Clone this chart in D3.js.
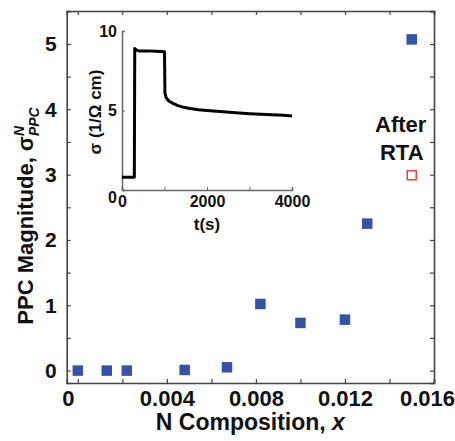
<!DOCTYPE html>
<html>
<head>
<meta charset="utf-8">
<script src="https://cdn.jsdelivr.net/npm/d3@7"></script>
<style>
  body { margin: 0; background: #fff; }
  svg { font-family: "Liberation Sans", Arial, sans-serif; font-weight: bold; }
</style>
</head>
<body>
<div id="d3chart"></div>
<script>
// DATA ===========================================================================================
const nComp = [0.0000, 0.0013, 0.0022, 0.0048, 0.0067, 0.0082, 0.0100, 0.0120, 0.0130, 0.0150]
const ppc   = [0.00,   0.00,   0.00,   0.01,   0.05,   1.02,   0.73,   0.78,   2.25,   5.07]
const rtaComp = [0.0150]
const rtaPpc  = [2.99]

const xTicks = [0, 0.004, 0.008, 0.012, 0.016]
const yTicks = [0, 1, 2, 3, 4, 5]

// inset: conductivity transient
const tSec  = [0, 290, 300, 340, 400, 600, 800, 1000, 1010, 1040, 1100, 1200, 1300, 1450, 1600, 1800, 2000, 2300, 2600, 3000, 3400, 3800, 4000]
const sigma = [0.8, 0.8, 8.9, 8.8, 8.75, 8.75, 8.72, 8.7, 6.1, 5.8, 5.6, 5.45, 5.32, 5.2, 5.12, 5.05, 5.0, 4.93, 4.87, 4.8, 4.75, 4.7, 4.65]
const insetXTicks = [0, 2000, 4000]
const insetYTicks = [0, 5, 10]

function draw() {
  // SET UP =========================================================================================
  const width = 455
  const height = 441
  const m = {top: 11, right: 21, bottom: 58, left: 66.7}
  const w = width - m.left - m.right
  const h = height - m.top - m.bottom

  const svg = d3.select('#d3chart')
    .append('svg')
    .attr('width', width)
    .attr('height', height)

  const g = svg.append('g')
    .attr('transform', `translate(${m.left}, ${m.top})`)

  // SCALES AND AXES ================================================================================
  const x = d3.scaleLinear().domain([-0.0005, 0.016]).range([0, w])
  const y = d3.scaleLinear().domain([-0.19, 5.505]).range([h, 0])

  const minorX = d3.range(0, 0.0161, 0.002)
  const minorY = d3.range(0, 5.51, 0.5)
  const axisColor = '#444'

  const bottom = g.append('g')
    .attr('transform', `translate(0, ${h})`)
    .call(d3.axisBottom(x).tickValues(minorX).tickSize(-4).tickPadding(7)
      .tickFormat(d => xTicks.some(t => Math.abs(t - d) < 1e-9) ? d3.format('~g')(d) : ''))
  bottom.selectAll('text').attr('font-size', 22).attr('fill', '#111')
  // the end labels sit a bit inward of their ticks in the original
  bottom.selectAll('.tick').filter(d => d === 0).select('text').attr('dx', -10)
  bottom.selectAll('.tick').filter(d => Math.abs(d - 0.016) < 1e-9).select('text').attr('dx', -7)

  const top = g.append('g')
    .call(d3.axisTop(x).tickValues(minorX).tickSize(-4).tickFormat(''))

  const left = g.append('g')
    .call(d3.axisLeft(y).tickValues(minorY).tickSize(-4).tickPadding(10)
      .tickFormat(d => yTicks.includes(d) ? d : ''))
  left.selectAll('text').attr('font-size', 21).attr('fill', '#111')

  const right = g.append('g')
    .attr('transform', `translate(${w}, 0)`)
    .call(d3.axisRight(y).tickValues(minorY).tickSize(-4).tickFormat(''))

  ;[bottom, top, left, right].forEach(a => {
    a.select('.domain').attr('stroke', axisColor).attr('stroke-width', 1.6)
    a.selectAll('.tick line').attr('stroke', axisColor).attr('stroke-width', 1.2)
  })

  // axis titles
  g.append('text')
    .attr('x', w / 2)
    .attr('y', h + 47)
    .attr('text-anchor', 'middle')
    .attr('font-size', 23)
    .attr('fill', '#111')
    .text('N Composition, ')
    .append('tspan')
      .attr('font-style', 'italic')
      .text('x')

  const yt = svg.append('text')
    .attr('transform', `translate(33, 216) rotate(-90)`)
    .attr('text-anchor', 'middle')
    .attr('font-size', 22)
    .attr('fill', '#111')
  yt.append('tspan').text('PPC Magnitude, σ')
  const sup = yt.append('tspan')
    .attr('font-size', 14).attr('font-style', 'italic').attr('dy', -9).text('N')
  yt.append('tspan')
    .attr('font-size', 14).attr('font-style', 'italic').attr('dy', 15)
    .attr('dx', -sup.node().getComputedTextLength()).text('PPC')

  // MARKS ==========================================================================================
  const sq = 10.5
  g.selectAll('.pt')
    .data(nComp.map((d, i) => ({x: d, y: ppc[i]})))
    .join('rect')
      .attr('class', 'pt')
      .attr('x', d => x(d.x) - sq / 2)
      .attr('y', d => y(d.y) - sq / 2)
      .attr('width', sq)
      .attr('height', sq)
      .attr('fill', '#3552a6')

  g.selectAll('.rta')
    .data(rtaComp.map((d, i) => ({x: d, y: rtaPpc[i]})))
    .join('rect')
      .attr('class', 'rta')
      .attr('x', d => x(d.x) - 4.5)
      .attr('y', d => y(d.y) - 4.5)
      .attr('width', 9)
      .attr('height', 9)
      .attr('fill', 'none')
      .attr('stroke', '#e8424c')
      .attr('stroke-width', 1.5)

  const lab = g.append('text')
    .attr('text-anchor', 'middle')
    .attr('font-size', 22)
    .attr('fill', '#111')
  lab.append('tspan').attr('x', x(0.015) - 11).attr('y', y(3.65)).text('After')
  lab.append('tspan').attr('x', x(0.015) - 10).attr('y', y(3.22)).text('RTA')

  // INSET ==========================================================================================
  const ix = d3.scaleLinear().domain([0, 4000]).range([122, 292])
  const iy = d3.scaleLinear().domain([0, 10]).range([190, 31])

  const ib = svg.append('g')
    .attr('transform', 'translate(0, 190)')
    .call(d3.axisBottom(ix).tickValues([0, 1000, 2000, 3000, 4000]).tickSize(-3).tickPadding(6)
      .tickFormat(d => insetXTicks.includes(d) ? d : ''))
  ib.selectAll('text').attr('font-size', 16).attr('fill', '#111')

  const il = svg.append('g')
    .attr('transform', 'translate(122, 0)')
    .call(d3.axisLeft(iy).tickValues(insetYTicks).tickSize(-3).tickPadding(5))
  il.selectAll('text').attr('font-size', 16).attr('fill', '#111')
  il.selectAll('.tick').filter(d => d === 0).select('text').attr('dy', '0.75em')

  ;[ib, il].forEach(a => {
    a.select('.domain').attr('stroke', '#666').attr('stroke-width', 1.5)
    a.selectAll('.tick line').attr('stroke', '#666')
  })

  svg.append('text')
    .attr('x', 207)
    .attr('y', 230)
    .attr('text-anchor', 'middle')
    .attr('font-size', 17)
    .attr('fill', '#111')
    .text('t(s)')

  svg.append('text')
    .attr('transform', 'translate(101, 112) rotate(-90)')
    .attr('text-anchor', 'middle')
    .attr('font-size', 17)
    .attr('fill', '#111')
    .text('σ (1/Ω cm)')

  const line = d3.line()
    .x(d => ix(d[0]))
    .y(d => iy(d[1]))

  svg.append('path')
    .datum(tSec.map((t, i) => [t, sigma[i]]))
    .attr('d', line)
    .attr('fill', 'none')
    .attr('stroke', '#000')
    .attr('stroke-width', 3)
    .attr('stroke-linejoin', 'round')
}

draw()
</script>
</body>
</html>
